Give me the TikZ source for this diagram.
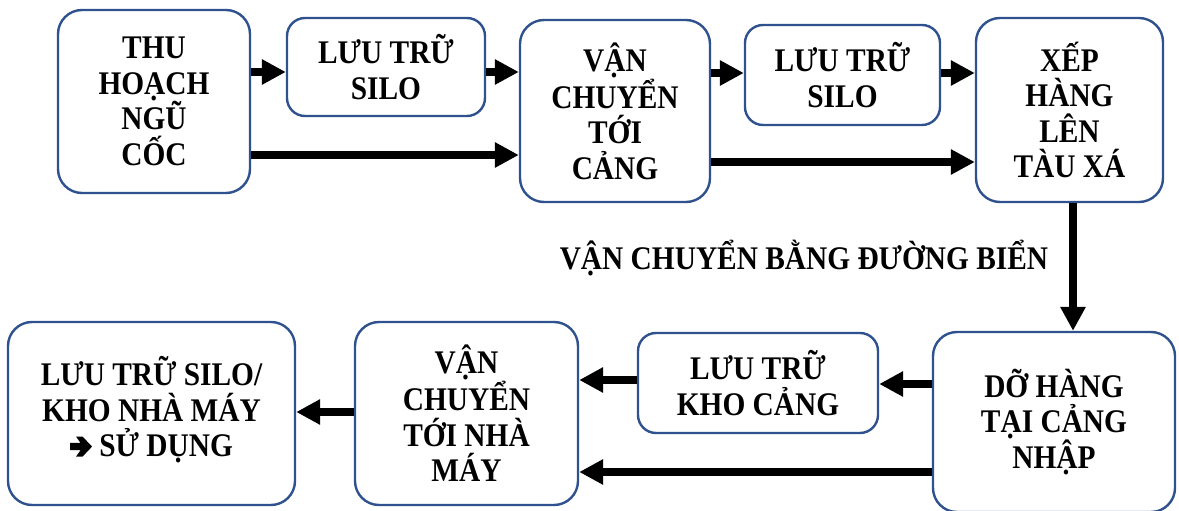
\documentclass[tikz,border=0pt]{standalone}
\usepackage{fontspec}
\setmainfont{Liberation Serif}[FakeStretch=0.89]
\usetikzlibrary{arrows.meta}
\definecolor{boxline}{RGB}{47,82,143}
% heavy notched arrow glyph used before "SỬ DỤNG"
\newsavebox\heavyarrow
\sbox\heavyarrow{\tikz[x=1pt,y=1pt,baseline=-10pt]\fill (0,-3.6) -- (10.5,-3.6) -- (6,-10) -- (12.5,-10) -- (22,0) -- (12.5,10) -- (6,10) -- (10.5,3.6) -- (0,3.6) -- cycle;}
\tikzset{
  stage/.style={draw=boxline, line width=2.4pt, rounded corners=24pt, align=center,
    inner sep=0pt, font=\fontsize{33}{35.5}\selectfont\bfseries, text=black},
  small/.style={stage, rounded corners=18pt},
  flow/.style={line width=8pt, -{Triangle[length=24pt,width=24pt]}},
  caption/.style={font=\fontsize{33}{35.5}\selectfont\bfseries}
}
\begin{document}
\begin{tikzpicture}[x=1pt,y=-1pt]
\useasboundingbox (0,0) rectangle (1179,511);
% export chain (top row)
\node[stage, minimum width=192pt, minimum height=183pt] (b1) at (154,101.5) {THU\\HOẠCH\\NGŨ\\CỐC};
\node[small, minimum width=198pt, minimum height=98pt] (b2) at (386,67) {LƯU TRỮ\\SILO};
\node[stage, minimum width=190pt, minimum height=182pt] (b3) at (615,111) {VẬN\\CHUYỂN\\TỚI\\CẢNG};
\node[small, minimum width=195pt, minimum height=100pt] (b4) at (842.5,75) {LƯU TRỮ\\SILO};
\node[stage, minimum width=187pt, minimum height=184pt] (b5) at (1069.5,110) {XẾP\\HÀNG\\LÊN\\TÀU XÁ};
% import chain (bottom row)
\node[stage, minimum width=242pt, minimum height=180pt] (b6) at (1054,422) {DỠ HÀNG\\TẠI CẢNG\\NHẬP};
\node[small, minimum width=240pt, minimum height=100pt] (b7) at (758,383) {LƯU TRỮ\\KHO CẢNG};
\node[stage, minimum width=223pt, minimum height=183pt] (b8) at (466.5,413.5) {VẬN\\CHUYỂN\\TỚI NHÀ\\MÁY};
\node[stage, minimum width=287pt, minimum height=183pt, text depth=14pt] (b9) at (151.5,413.5) {LƯU TRỮ SILO/\\KHO NHÀ MÁY\\\usebox\heavyarrow\ SỬ DỤNG};
\node[caption] (sea) at (804,258) {VẬN CHUYỂN BẰNG ĐƯỜNG BIỂN};
% connectors
\draw[flow] (b1.east |- 0,72) -- (b2.west |- 0,72);
\draw[flow] (b2.east |- 0,72) -- (b3.west |- 0,72);
\draw[flow] (b3.east |- 0,73) -- (b4.west |- 0,73);
\draw[flow] (b4.east |- 0,73) -- (b5.west |- 0,73);
\draw[flow] (b1.east |- 0,155) -- (b3.west |- 0,155);
\draw[flow] (b3.east |- 0,162) -- (b5.west |- 0,162);
\draw[flow] (b5.south -| 1073,0) -- (b6.north -| 1073,0);
\draw[flow] (b6.west |- 0,384) -- (b7.east |- 0,384);
\draw[flow] (b7.west |- 0,380) -- (b8.east |- 0,380);
\draw[flow] (b6.west |- 0,472) -- (b8.east |- 0,472);
\draw[flow] (b8.west |- 0,412) -- (b9.east |- 0,412);
\end{tikzpicture}
\end{document}
